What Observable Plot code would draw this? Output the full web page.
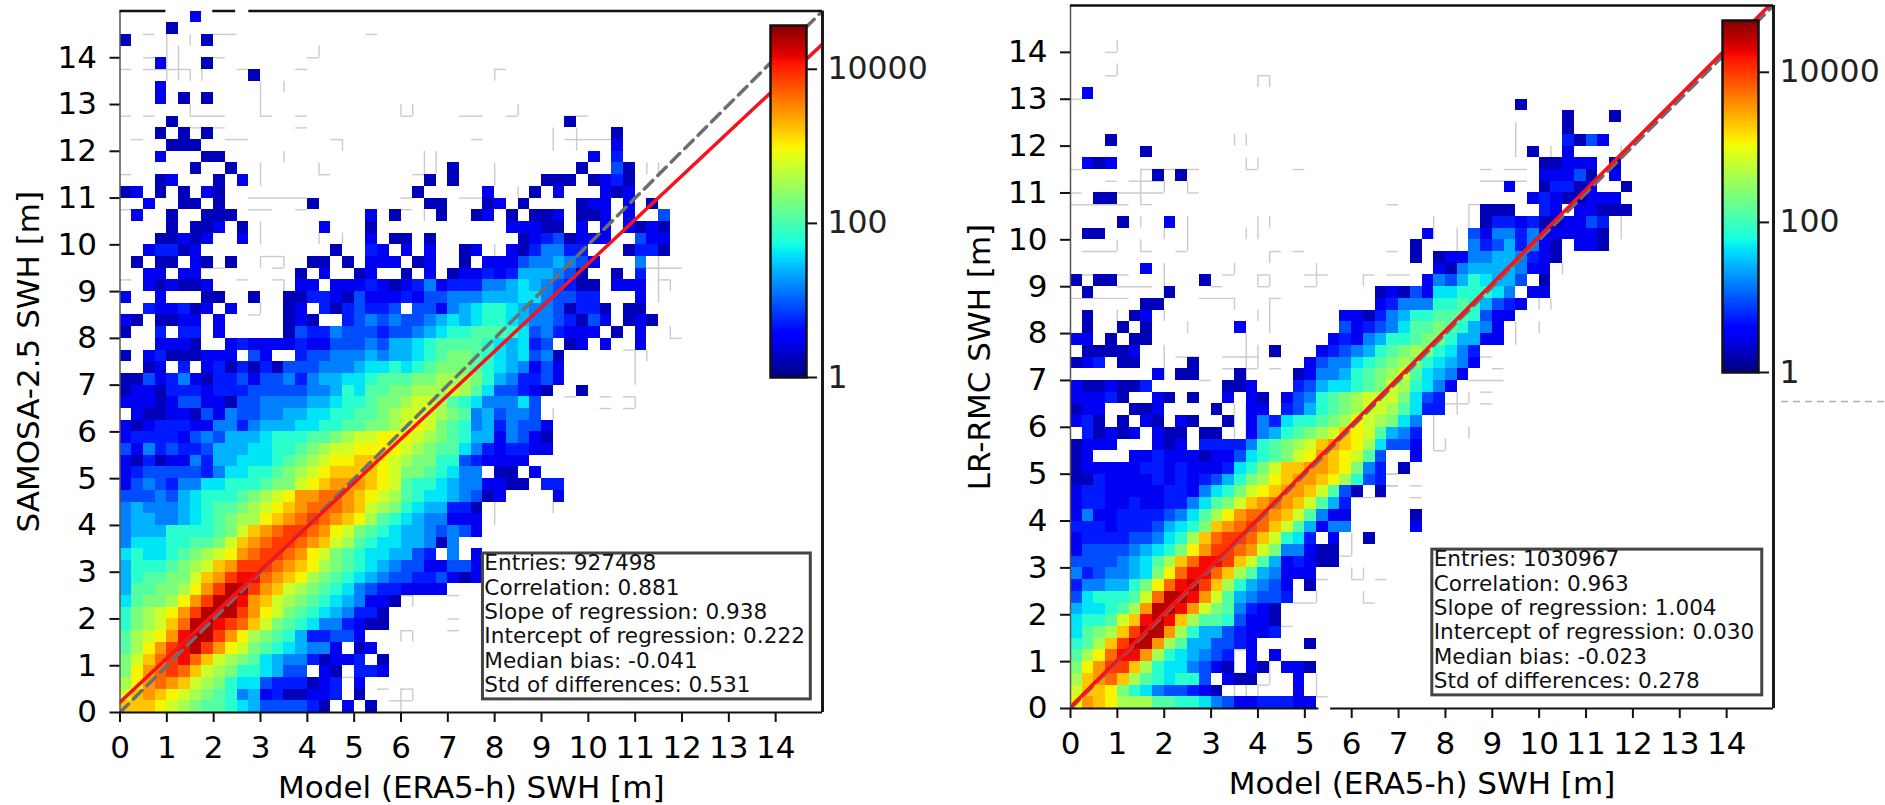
<!DOCTYPE html>
<html>
<head>
<meta charset="utf-8">
<script src="https://cdn.jsdelivr.net/npm/d3@7"></script>
<script src="https://cdn.jsdelivr.net/npm/@observablehq/plot@0.6"></script>
<style>
html,body{margin:0;padding:0;background:#fff;overflow:hidden}
#stage{position:relative;width:1885px;height:805px;overflow:hidden}
#stage svg{position:absolute;max-width:none;overflow:visible}
</style>
</head>
<body>
<div id="stage"></div>
<script>
// Each string is one row of 0.25 m bins, from SWH 14.75-15 down to 0-0.25.
const samosaRows = [
"......2","....1","1......1","","...2...1","...........1","...2","...2.1.1","",
"....1..... .......... .......... ........1.",
"...1.1.1.. .......... .......... .......... ..1",
"....111... .......... .......... .......... ..2",
"...2...11. .......... .......... .......... 2.3",
"......1..1 .......... ........1. .........1 ..41",
"...12...1. 2......... ......1.1. ......111. 1231",
"12.1.1.21. .......... .....1.... .2...1.2.. .212",
"..2..11.1. ......1... ......11.. .12.1....1 22.2.1",
".2..1..111 .......... .2.1...1.. 12.1.112.1 12.2..4",
"....1.112. 1......2.. .1........ ...22211.2 .2.2121",
"...11212.. 2......... .2.11.1... ....123412 22..422",
"..23312... ........1. .32.2.2..1 2..2135533 ...1331",
".1.11.21.1 ......11.1 .222.12..1 .222455654 2...5",
"..22.22... .....1.2.. 12..1.2.12 2323666541 ..1.3",
"..212112.. .....22.22 2321235233 3556765431 1.222",
"2..2...11. .1..113321 4222324455 5666775443 3...2",
"..322312.2 ....12.313 4334.44256 7887655413 31.11",
"21.1122.2. ....121..3 4545445676 7887655431 42.121",
"1..3.33.2. ....143354 4434456788 9998745322 2.1.2",
"...2221..2 3222232244 4546678999 9876734.12 .2..2",
"1.23111222 .42..34455 56566789aa 98767451",
"..12.3.231 3131444555 6778789aaa 98765242",
"1142352133 4244535667 78999aabbb a8653342",
"1221333233 3444445568 799aabbbcb 9744321..1",
"2221244221 4455556678 89aabccb98 755574",
".211221425 4455667788 99abcccba9 564554",
"2123332255 3566677889 9aabcdca98 5635442",
"2333324546 66788899ab ccdddcba98 6625421",
"4253433466 677889abcc ddddcba997 5323322",
"2131225366 77789abcdd eedcbaa884 32222",
"2344444357 7889abcdee eedcaa9875 5.11.2",
"2454355778 889aacdeff fedc988765 52211.33",
"4445467888 9abcdffggf edcb987765 412....2",
"5655567899 abcdefgggf ecba876633 1",
"566556789a bbdefghgfe db98765522 2",
"566688889a cefghhgfdc a987665454 2",
"57778899ac efghhgfecb 987766515.",
"787789abcd fghhgfdca9 8776643.5. 2",
"68889abcef hhhgfedba9 8765442244 2",
"6899aacefh iigfedba98 7654433421 2",
"699aabdfhj jhfecba987 54332222",
"79aabdfhjj ifecba9876 5221",
"8abcdfhjjj hfdca98765 331",
"8abcegjjih geca987553 211",
"9bcdfijjhf dba9863344 2",
"9bdfhijhfd ca9876552. 12",
"aceghigecb a976553122 3.1",
"adfghgecba 887644.21. 332",
"bdfgfecba8 774333123. 2",
"cefedcba98 562311223. 1",
"eeedcba998 76444431.2 .1"
];
const lrrmcRows = [
"","","","","","","",
".2",
".......... .......... .......... ........1.",
".......... .......... .......... .......... ..1...1",
".......... .......... .......... .......... ..1",
"...1...... .......... .......... .......... ..3142",
"......1... .......... .......... .........1 ..2",
".212...... .......... .......... .......... 11222.1",
".......1.1 .......... .......... .......... 22241.2",
".......... .......... .......... .......2.. 13312..1",
"..11...... .......... .......... .........2 3211222",
".......... .......... .......... .....111.. 32.22111",
"....1...2. .......... .......... .....13323 112243",
".11....... .......... .......... 2...425535 222221",
".......... .......... .........1 ....534635 21.221",
".......... .......... .........1 .122556653 21",
"......2... .......... .......... .215666652 2",
"1.11...... .1........ .......... 254687664. 1",
".1......1. .......... ......1214 27788875.2 2",
"......11.. .......... ......2355 588986432",
".1...12... .......... ...2213568 89998422",
".1..1.1... ....2..... ...4234579 9a98652",
"22.1.11... .......... ..23256889 aa86622",
".11112.... .......1.. .2345689ab a8753",
"123.11.... 1......... 2455789aba 87652",
".......2.1 1...1....1 255689abc9 7652",
"2112113... ...112...3 467789acb8 752",
"22231..21. 1..2.21.24 589abccca7 43",
"122..112.. ..1..22.34 689abccb97 33",
"231.1.21.2 1..1.25378 89abdcba75",
".31212.211 .11..25689 abcedc9653",
"1222...212 .3333589ab cefedb7442",
"12...22322 21224789ac dfedc94..2",
"1222223323 222378acee ffeda53.1",
"1132222323 23468abdef fedb843",
"2332222233 2578acdeff ec941.1",
"2332232233 579acefgfe c963",
"2522333345 79bdfggfec 9522.....1",
"3332333467 8aefghgec9 6255.....2",
"2333344578 beghhgec87 3.2..1",
"244445678a dfhhgfca55 211",
"44445679be giihec9623 211",
"5345567adg iigeb96522 2",
"355668adgi jheb86542. 1",
"478889cgjj ifc965443",
"67789bfjji fca95321",
"7889ceijie b9984221",
"79abehjjfb 86643223",
"89behjjfb9 664432.... 1",
"9bdgiifb87 6543.2.2",
"adfhheb877 5421.21.22 1",
"befgeb9878 84.211...2",
"ceeda87544 321......2",
"dfedbbb998 8754223332 2"
];

// Faint outlines of empty bins, in bin numbers: [row, fromCol, toCol] and [col, fromRow, toRow]
const samosaFaintH = [[58,2,3],[58,8,10],[58,21,22],[56,2,3],[56,8,9],[56,16,17],[55,0,1],[55,2,6],[55,10,11],[55,15,16],[51,0,1],[51,2,3],[51,6,9],[51,12,13],[51,15,16],[51,24,25],[51,29,31],[51,33,34],[51,38,40],[50,6,9],[50,15,16],[49,1,2],[49,9,11],[49,18,19],[49,30,31],[49,38,42],[46,0,1],[46,25,27],[46,17,18],[44,11,16],[44,24,25],[44,29,31],[43,0,1],[43,11,13],[43,15,16],[43,24,25],[39,12,14],[38,7,9],[38,13,14],[38,45,48],[37,0,1],[37,10,11],[37,13,14],[37,15,16],[37,46,47],[34,11,12],[32,47,48],[31,43,44],[27,38,39],[27,41,42],[27,43,44],[26,41,42],[26,43,44],[55,32,33],[10,24,25],[10,28,29],[8,28,29],[7,24,25],[7,28,29],[3,19,20],[2,22,23],[2,24,25],[1,23,25]];
const samosaFaintV = [[4,54,58],[5,54,57],[6,57,58],[6,54,55],[6,51,52],[7,54,55],[12,51,54],[14,53,54],[14,47,48],[17,56,57],[17,46,47],[12,45,47],[19,48,49],[24,51,52],[25,51,52],[26,46,48],[27,46,48],[12,40,42],[17,40,41],[19,40,41],[12,38,39],[14,38,39],[14,36,37],[12,34,35],[32,54,55],[34,51,52],[37,48,50],[39,48,50],[45,46,47],[46,46,47],[32,45,47],[34,44,45],[26,42,43],[32,39,40],[46,35,39],[47,36,37],[47,32,33],[44,28,31],[45,30,31],[25,9,10],[24,6,7],[25,6,7],[24,0,2],[25,1,2],[32,16,18],[37,17,19],[37,25,26],[44,26,27]];
const lrrmcFaintH = [[56,3,4],[54,3,4],[54,16,17],[52,0,1],[46,0,1],[46,6,11],[46,15,16],[46,19,20],[46,35,36],[46,37,39],[45,3,4],[45,5,8],[45,35,39],[44,0,1],[44,4,8],[44,10,11],[43,0,5],[43,6,7],[43,27,28],[43,34,35],[39,1,4],[39,6,7],[39,9,10],[39,17,18],[39,19,20],[39,27,28],[37,0,5],[37,13,14],[37,16,17],[37,20,22],[37,25,26],[37,27,29],[36,4,7],[36,12,13],[36,16,17],[36,20,21],[35,0,5],[35,11,14],[35,17,18],[30,9,11],[30,13,16],[30,17,18],[30,35,36],[29,13,16],[29,17,18],[29,36,37],[28,11,12],[28,34,37],[27,35,36],[26,32,34],[26,35,36],[22,31,32],[20,27,28],[19,27,28],[19,29,30],[18,29,30],[11,21,22],[11,24,25],[11,26,27],[9,19,21],[9,25,26],[7,18,19],[2,16,17],[1,13,17],[1,21,22],[5,14,15],[3,14,15],[13,23,24],[20,26,28],[19,26,28],[18,24,27]];
const lrrmcFaintV = [[4,56,57],[4,54,55],[16,53,54],[17,53,54],[14,48,49],[15,48,49],[15,46,47],[16,46,47],[6,43,46],[8,44,45],[10,44,45],[6,41,42],[8,40,41],[10,39,42],[4,39,40],[6,39,40],[15,40,41],[16,40,42],[17,41,42],[17,38,39],[14,37,38],[8,35,38],[21,36,38],[16,36,37],[17,36,37],[25,36,37],[14,34,35],[17,32,35],[16,33,34],[16,29,31],[15,28,32],[8,33,34],[10,32,33],[8,28,31],[4,33,34],[38,47,50],[41,47,48],[47,47,48],[34,41,43],[31,40,42],[33,39,41],[47,40,42],[42,37,38],[40,34,35],[41,34,35],[40,32,33],[38,31,33],[33,25,27],[34,26,27],[31,22,25],[32,22,23],[34,23,24],[24,11,12],[25,11,12],[25,9,10],[24,13,15],[21,9,10],[14,23,26],[15,23,26],[21,1,3],[17,2,4],[14,1,5],[15,1,2],[16,1,2]];

const axisTicks = [0,1,2,3,4,5,6,7,8,9,10,11,12,13,14];
const barTicks = [1,100,10000];
const statNames = ["Entries","Correlation","Slope of regression","Intercept of regression","Median bias","Std of differences"];
const samosaStats = ["927498","0.881","0.938","0.222","-0.041","0.531"];
const lrrmcStats = ["1030967","0.963","1.004","0.030","-0.023","0.278"];

const BIN = 0.25;
const channel = (d,r) => d3.scaleLinear().domain(d).range(r).clamp(true);
const jetR = channel([0,.35,.66,.89,1],[0,0,1,1,.5]);
const jetG = channel([0,.125,.375,.64,.91,1],[0,0,1,1,0,0]);
const jetB = channel([0,.11,.34,.65,1],[.5,1,1,0,0]);
function jet(t){ return `rgb(${Math.round(255*jetR(t))},${Math.round(255*jetG(t))},${Math.round(255*jetB(t))})`; }

const font = "'DejaVu Sans'";
const stage = document.getElementById("stage");
const place = (svg,left) => { svg.style.left = left+"px"; svg.style.top = "0px"; stage.appendChild(svg); };

function cellsOf(rows, top){
  return rows.flatMap((row,i) => [...row.replace(/ /g,"")].flatMap((ch,c) =>
    ch === "." ? [] : [{col:c, row:rows.length-1-i, count: top ** (parseInt(ch,36)/20)}]));
}

function panel(p){
  const cells = cellsOf(p.rows, p.top);
  const ends = [0,15];
  const line = x => p.intercept + p.slope*x;
  const stats = statNames.map((n,i)=>`${n}: ${p.stats[i]}`);
  const svg = Plot.plot({
    width:p.w, height:805, marginLeft:p.ml, marginRight:p.w-p.fr, marginTop:p.ft, marginBottom:805-p.fb,
    style:{background:"transparent",fontFamily:font},
    x:{domain:[0,15]}, y:{domain:[0,15]},
    color:{type:"log",domain:[1,p.top],interpolate:jet},
    marks:[
      Plot.ruleY(p.faintH,{y:d=>d[0]*BIN,x1:d=>d[1]*BIN,x2:d=>d[2]*BIN,stroke:"#cbcbcb",strokeWidth:1.4}),
      Plot.ruleX(p.faintV,{x:d=>d[0]*BIN,y1:d=>d[1]*BIN,y2:d=>d[2]*BIN,stroke:"#cbcbcb",strokeWidth:1.4}),
      Plot.rect(cells,{x1:d=>d.col*BIN,x2:d=>(d.col+1)*BIN,y1:d=>d.row*BIN,y2:d=>(d.row+1)*BIN,fill:"count",shapeRendering:"crispEdges"}),
      Plot.line(ends,{x:d=>d,y:d=>d,stroke:"#6e6e6e",strokeWidth:3.5,strokeDasharray:"12 7",clip:true}),
      Plot.line(ends,{x:d=>d,y:line,stroke:"#f5141e",strokeWidth:3.5,clip:true}),
      Plot.ruleX([0],{stroke:"#555",strokeWidth:1.5}),
      Plot.ruleX([15],{stroke:"#1a1a1a",strokeWidth:3}),
      Plot.ruleY(p.bottom,{y:()=>0,x1:d=>d[0],x2:d=>d[1],stroke:"#111",strokeWidth:2}),
      Plot.ruleY(p.topEdge,{y:()=>15,x1:d=>d[0],x2:d=>d[1],stroke:"#111",strokeWidth:2.5}),
      Plot.axisX(axisTicks,{anchor:"bottom",tickSize:10,tickPadding:13,fontSize:p.fs,strokeWidth:2,stroke:"#111",tickFormat:"d",label:"Model (ERA5-h) SWH [m]",labelAnchor:"center",labelArrow:"none",labelOffset:p.lx}),
      Plot.axisY(axisTicks,{anchor:"left",tickSize:10,tickPadding:13,fontSize:p.fs,strokeWidth:2,stroke:"#111",tickFormat:"d",label:p.label,labelAnchor:"center",labelArrow:"none",labelOffset:p.ly}),
      Plot.rect([0],{x1:p.box[0],x2:p.box[1],y1:p.box[2],y2:p.box[3],fill:"white",stroke:"#444",strokeWidth:3}),
      Plot.text(stats,{x:()=>p.box[0]+0.03,y:(d,i)=>p.box[3]-0.21-i*0.52,text:d=>d,textAnchor:"start",fontSize:p.sf,fill:"#111",stroke:null}),
      ...(p.extra||[])
    ]
  });
  place(svg,p.left);
}

function colorbar(b){
  const stops = d3.range(0,256).map(i => b.top ** (i/256));
  const svg = Plot.plot({
    width:2+36+130, height:805, marginLeft:2, marginRight:130, marginTop:b.t, marginBottom:805-b.b,
    style:{background:"transparent",fontFamily:font},
    x:{domain:[0,1],axis:null},
    y:{type:"log",domain:[1,b.top],axis:null},
    color:{type:"log",domain:[1,b.top],interpolate:jet},
    marks:[
      Plot.rect(stops,{x1:()=>0,x2:()=>1,y1:d=>d,y2:d=>d*(b.top**(1/256)),fill:d=>d,shapeRendering:"crispEdges"}),
      Plot.frame({stroke:"#111",strokeWidth:2.5}),
      Plot.axisY(barTicks,{anchor:"right",tickSize:10,tickPadding:11,fontSize:b.fs,strokeWidth:2,stroke:"#111",fill:"#222",tickFormat:"d",label:null})
    ]
  });
  place(svg,b.l-2);
}

panel({rows:samosaRows,top:37000,left:0,w:925,ml:119.5,fr:822,ft:10.5,fb:712,fs:31,sf:21.6,lx:85,ly:103,
  label:"SAMOSA-2.5 SWH [m]",stats:samosaStats,slope:0.938,intercept:0.222,box:[7.75,14.75,0.28,3.4],
  faintH:samosaFaintH,faintV:samosaFaintV,bottom:[[0,15]],topEdge:[[0,0.98],[1.98,2.47],[2.75,15]]});
panel({rows:lrrmcRows,top:49000,left:940,w:945,ml:130,fr:833,ft:5,fb:708,fs:31,sf:21.6,lx:85,ly:103,
  label:"LR-RMC SWH [m]",stats:lrrmcStats,slope:1.004,intercept:0.030,box:[7.72,14.76,0.28,3.39],
  faintH:lrrmcFaintH,faintV:lrrmcFaintV,bottom:[[0,5.3],[5.55,15]],topEdge:[[0,15]],
  extra:[Plot.ruleY([6.55],{x1:()=>15.17,x2:()=>17.39,stroke:"#b0b0b0",strokeWidth:1.5,strokeDasharray:"7 5"})]});
colorbar({top:37000,l:770,t:25,b:377,fs:31.5});
colorbar({top:49000,l:1722,t:20,b:372,fs:31.5});
</script>
</body>
</html>
